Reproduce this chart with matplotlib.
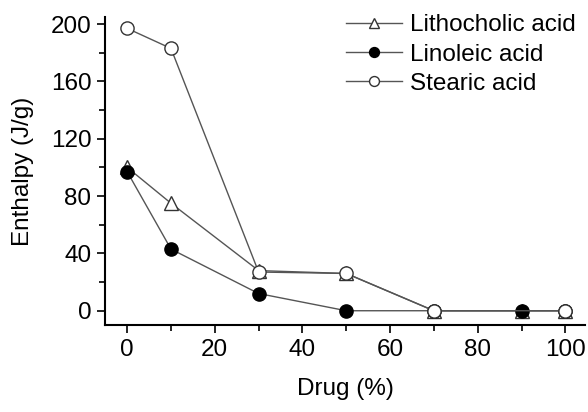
import matplotlib
matplotlib.use("Agg")
import matplotlib.pyplot as plt
from matplotlib.ticker import MultipleLocator

plt.rcParams['font.family'] = ['Liberation Sans', 'DejaVu Sans']

# data
litho_x = [0, 10, 30, 50, 70, 90, 100]
litho_y = [100, 75, 28, 26, 0, 0, 0]
lino_x = [0, 10, 30, 50, 70, 90, 100]
lino_y = [97, 43, 12, 0, 0, 0, 0]
stear_x = [0, 10, 30, 50, 70, 100]
stear_y = [197, 183, 27, 26, 0, 0]

fig = plt.figure(figsize=(5.88, 4.12), dpi=100)
ax = fig.add_axes([0.179, 0.211, 0.816, 0.748])

fs = 17.5
line_c = '#555555'
ms = 9.5
ax.plot(litho_x, litho_y, color=line_c, lw=1.0, marker='^', ms=ms + 1,
        mfc='white', mec='#333333', mew=1.0, label='Lithocholic acid')
ax.plot(lino_x, lino_y, color=line_c, lw=1.0, marker='o', ms=ms,
        mfc='black', mec='black', mew=1.0, label='Linoleic acid')
ax.plot(stear_x, stear_y, color=line_c, lw=1.0, marker='o', ms=ms,
        mfc='white', mec='#333333', mew=1.0, label='Stearic acid')

ax.set_xlim(-5, 104.5)
ax.set_ylim(-10, 205)
ax.xaxis.set_major_locator(MultipleLocator(20))
ax.xaxis.set_minor_locator(MultipleLocator(10))
ax.yaxis.set_major_locator(MultipleLocator(40))
ax.yaxis.set_minor_locator(MultipleLocator(20))
ax.tick_params(which='major', direction='out', length=6, width=1.2,
               labelsize=fs, pad=4)
ax.tick_params(which='minor', direction='out', length=4, width=1.2)

for s in ['top', 'right']:
    ax.spines[s].set_visible(False)
for s in ['left', 'bottom']:
    ax.spines[s].set_linewidth(1.5)

ax.set_xlabel('Drug (%)', fontsize=fs, labelpad=12)
ax.set_ylabel('Enthalpy (J/g)', fontsize=fs, labelpad=12)

leg = ax.legend(loc='upper right', frameon=False, fontsize=fs, handlelength=2.3,
                handletextpad=0.3, labelspacing=0.3, borderaxespad=0.0,
                bbox_to_anchor=(1.0, 1.04), markerscale=0.75)

fig.savefig('out.png', dpi=100)
